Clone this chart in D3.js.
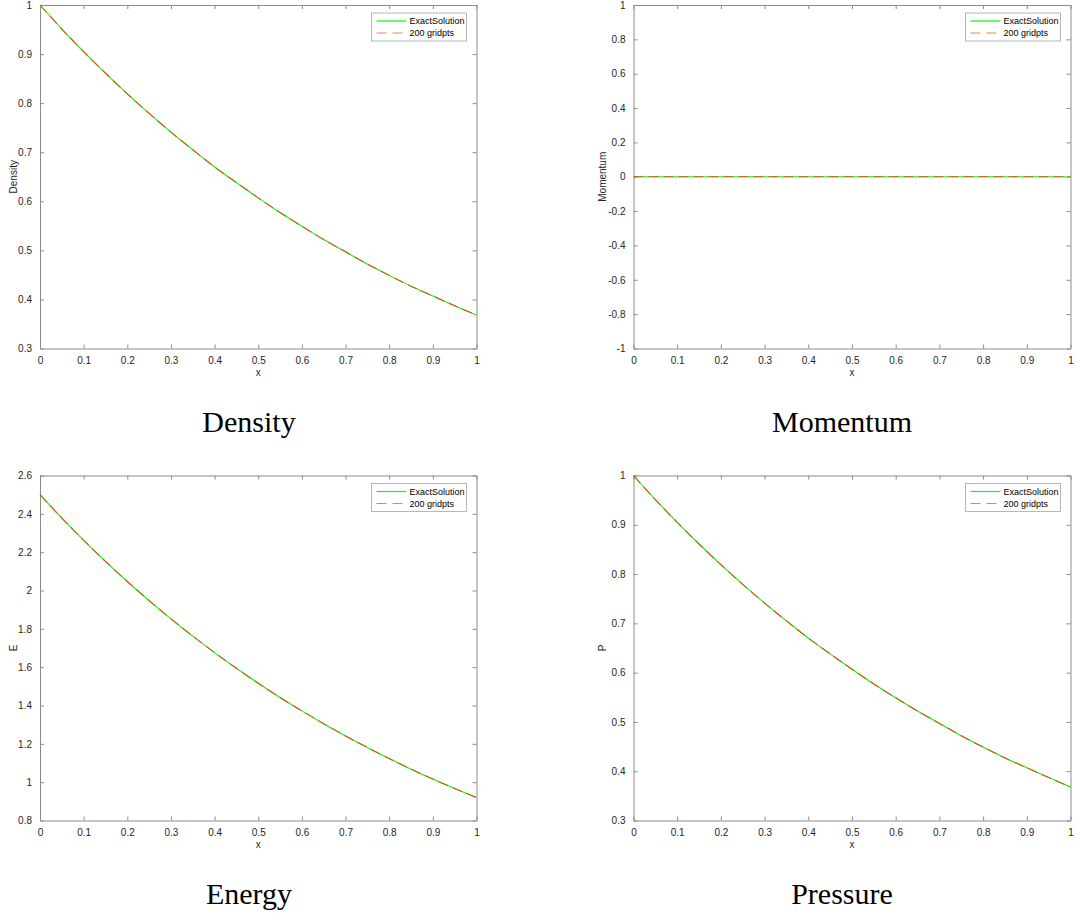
<!DOCTYPE html>
<html>
<head>
<meta charset="utf-8">
<script src="https://cdn.jsdelivr.net/npm/d3@7"></script>
<style>
html,body{margin:0;padding:0;background:#fff;}
svg{display:block;}
</style>
</head>
<body>
<svg id="chart" width="1075" height="915"></svg>
<script>
// ---- data ----
const xValues = [0,0.05,0.1,0.15,0.2,0.25,0.3,0.35,0.4,0.45,0.5,0.55,0.6,0.65,0.7,0.75,0.8,0.85,0.9,0.95,1];
const densityExact = [1,0.951,0.905,0.861,0.819,0.779,0.741,0.705,0.670,0.638,0.607,0.577,0.549,0.522,0.497,0.472,0.449,0.427,0.407,0.387,0.368];
const densityGrid  = [1,0.951,0.905,0.861,0.819,0.779,0.741,0.705,0.670,0.638,0.607,0.577,0.549,0.522,0.497,0.472,0.449,0.427,0.407,0.387,0.368];
const momentumExact = [0,0,0,0,0,0,0,0,0,0,0,0,0,0,0,0,0,0,0,0,0];
const momentumGrid  = [0,0,0,0,0,0,0,0,0,0,0,0,0,0,0,0,0,0,0,0,0];
const energyExact = [2.5,2.378,2.262,2.152,2.047,1.947,1.852,1.762,1.676,1.594,1.516,1.442,1.372,1.305,1.241,1.181,1.123,1.068,1.016,0.967,0.920];
const energyGrid  = [2.5,2.378,2.262,2.152,2.047,1.947,1.852,1.762,1.676,1.594,1.516,1.442,1.372,1.305,1.241,1.181,1.123,1.068,1.016,0.967,0.920];
const pressureExact = [1,0.951,0.905,0.861,0.819,0.779,0.741,0.705,0.670,0.638,0.607,0.577,0.549,0.522,0.497,0.472,0.449,0.427,0.407,0.387,0.368];
const pressureGrid  = [1,0.951,0.905,0.861,0.819,0.779,0.741,0.705,0.670,0.638,0.607,0.577,0.549,0.522,0.497,0.472,0.449,0.427,0.407,0.387,0.368];

const xTicks = [0,0.1,0.2,0.3,0.4,0.5,0.6,0.7,0.8,0.9,1];
const densityTicks = [0.3,0.4,0.5,0.6,0.7,0.8,0.9,1];
const momentumTicks = [-1,-0.8,-0.6,-0.4,-0.2,0,0.2,0.4,0.6,0.8,1];
const energyTicks = [0.8,1,1.2,1.4,1.6,1.8,2,2.2,2.4,2.6];
const pressureTicks = [0.3,0.4,0.5,0.6,0.7,0.8,0.9,1];

const legendLabels = ["ExactSolution","200 gridpts"];
const yLabels = ["Density","Momentum","E","P"];
const captions = ["Density","Momentum","Energy","Pressure"];

// ---- layout ----
const svg = d3.select("#chart");
svg.append("rect").attr("width",1075).attr("height",915).attr("fill","#fff");

const panels = [
  {x0:40,   x1:476.5,  y0:5,     y1:348.5, dom:[0.3,1],  ticks:densityTicks,  exact:densityExact,  grid:densityGrid,  ylab:yLabels[0], ylabX:13,  cap:captions[0], capX:249, capY:432},
  {x0:633.5,x1:1070.5, y0:5,     y1:348.5, dom:[-1,1],   ticks:momentumTicks, exact:momentumExact, grid:momentumGrid, ylab:yLabels[1], ylabX:602, cap:captions[1], capX:842, capY:432},
  {x0:40,   x1:476.5,  y0:475.5, y1:820.5, dom:[0.8,2.6],ticks:energyTicks,   exact:energyExact,   grid:energyGrid,   ylab:yLabels[2], ylabX:13,  cap:captions[2], capX:249, capY:904},
  {x0:633.5,x1:1070.5, y0:475.5, y1:820.5, dom:[0.3,1],  ticks:pressureTicks, exact:pressureExact, grid:pressureGrid, ylab:yLabels[3], ylabX:602, cap:captions[3], capX:842, capY:904}
];

const axisColor = "#8c8c8c";
const textColor = "#262626";
const sans = "'Liberation Sans', Arial, Helvetica, sans-serif";
const fmt = d => String(+d.toFixed(2));

panels.forEach(p => {
  const x = d3.scaleLinear().domain([0,1]).range([p.x0,p.x1]);
  const y = d3.scaleLinear().domain(p.dom).range([p.y1,p.y0]);
  const g = svg.append("g");

  // axes (box with inward ticks on all sides)
  const bottom = d3.axisBottom(x).tickValues(xTicks).tickSizeInner(-4).tickSizeOuter(0).tickPadding(8).tickFormat(fmt);
  const top = d3.axisTop(x).tickValues(xTicks).tickSizeInner(-4).tickSizeOuter(0).tickFormat("");
  const left = d3.axisLeft(y).tickValues(p.ticks).tickSizeInner(-4).tickSizeOuter(0).tickPadding(8).tickFormat(fmt);
  const right = d3.axisRight(y).tickValues(p.ticks).tickSizeInner(-4).tickSizeOuter(0).tickFormat("");

  const styleAxis = sel => {
    sel.selectAll("path").attr("stroke",axisColor).attr("stroke-width",1);
    sel.selectAll("line").attr("stroke",axisColor).attr("stroke-width",1);
    sel.selectAll("text").attr("fill",textColor).style("font-family",sans).style("font-size","10px");
  };
  g.append("g").attr("transform",`translate(0,${p.y1})`).call(bottom).call(styleAxis);
  g.append("g").attr("transform",`translate(0,${p.y0})`).call(top).call(styleAxis);
  g.append("g").attr("transform",`translate(${p.x0},0)`).call(left).call(styleAxis);
  g.append("g").attr("transform",`translate(${p.x1},0)`).call(right).call(styleAxis);

  // lines
  const line = d3.line().x((d,i)=>x(xValues[i])).y(d=>y(d)).curve(d3.curveMonotoneX);
  g.append("path").attr("d",line(p.exact)).attr("fill","none").attr("stroke","#00ff00").attr("stroke-width",1.1);
  g.append("path").attr("d",line(p.grid)).attr("fill","none").attr("stroke","#D95319").attr("stroke-width",1.1).attr("stroke-dasharray","10,5");

  // axis labels
  g.append("text").attr("x",(p.x0+p.x1)/2).attr("y",p.y1+27).attr("text-anchor","middle")
    .attr("fill",textColor).style("font-family",sans).style("font-size","10px").text("x");
  g.append("text").attr("transform",`translate(${p.ylabX+3.5},${(p.y0+p.y1)/2}) rotate(-90)`).attr("text-anchor","middle")
    .attr("fill",textColor).style("font-family",sans).style("font-size","10px").text(p.ylab);

  // legend
  const lw = 95, lh = 28;
  const lx = p.x1 - 10 - lw, ly = p.y0 + 8;
  const lg = g.append("g").attr("transform",`translate(${lx},${ly})`);
  lg.append("rect").attr("width",lw).attr("height",lh).attr("fill","#fff").attr("stroke","#a6a6a6").attr("stroke-width",0.8);
  const rows = [{c:"#00ff00",dash:null},{c:"#E8825A",dash:"10,6"}];
  rows.forEach((r,i) => {
    const yy = 8 + i*12;
    lg.append("line").attr("x1",5).attr("x2",35).attr("y1",yy).attr("y2",yy)
      .attr("stroke",r.c).attr("stroke-width",1.2).attr("stroke-dasharray",r.dash);
    lg.append("text").attr("x",38).attr("y",yy+3.2).attr("fill","#000")
      .style("font-family",sans).style("font-size","9px").text(legendLabels[i]);
  });

  // caption
  svg.append("text").attr("x",p.capX).attr("y",p.capY).attr("text-anchor","middle")
    .attr("fill","#000").style("font-family","'Liberation Serif','Times New Roman',serif").style("font-size","30px").text(p.cap);
});
</script>
</body>
</html>
